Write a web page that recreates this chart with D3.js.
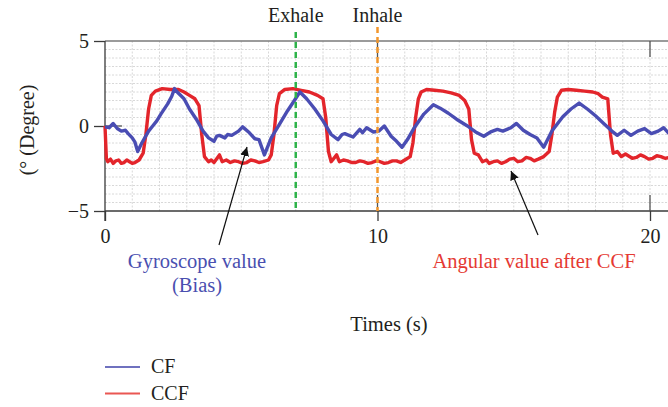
<!DOCTYPE html>
<html>
<head>
<meta charset="utf-8">
<script src="https://cdn.jsdelivr.net/npm/d3@7"></script>
<style>
  body { margin: 0; background: #fff; }
  text { font-family: "Liberation Serif", "DejaVu Serif", serif; fill: #231f20; }
</style>
</head>
<body>
<svg id="chart" width="668" height="407"></svg>
<script>
// CF curve (gyroscope value, blue)
const cfTime = [0, 0.15, 0.3, 0.45, 0.6, 0.75, 0.85, 1.0, 1.1, 1.2, 1.35, 1.6, 1.75, 1.9, 2.05, 2.3, 2.45, 2.55, 2.65, 2.9, 3.1, 3.35, 3.6, 3.8, 4.0, 4.1, 4.2, 4.4, 4.5, 4.65, 4.9, 5.05, 5.3, 5.5, 5.65, 5.85, 6.1, 6.4, 6.7, 6.95, 7.15, 7.4, 7.7, 8.0, 8.3, 8.55, 8.7, 8.8, 9.1, 9.35, 9.45, 9.6, 9.85, 10.05, 10.25, 10.5, 10.7, 10.9, 11.1, 11.35, 11.7, 12.05, 12.3, 12.6, 12.9, 13.3, 13.6, 13.9, 14.15, 14.4, 14.6, 14.9, 15.1, 15.35, 15.6, 15.85, 16.1, 16.4, 16.8, 17.1, 17.4, 17.7, 18.0, 18.3, 18.6, 18.8, 19.05, 19.3, 19.55, 19.8, 20.05, 20.3, 20.5, 20.7];
const cfValue = [-0.05, -0.1, 0.15, -0.15, -0.3, -0.25, -0.45, -0.7, -0.95, -1.5, -1.0, -0.3, 0.0, 0.3, 0.7, 1.3, 1.75, 2.2, 2.0, 1.6, 1.0, 0.4, -0.3, -0.7, -0.9, -0.6, -0.55, -0.7, -0.5, -0.55, -0.3, -0.05, -0.4, -0.75, -0.8, -1.7, -0.7, 0.1, 0.9, 1.5, 2.0, 1.6, 1.0, 0.3, -0.5, -0.8, -0.5, -0.45, -0.65, -0.2, -0.4, -0.1, -0.35, -0.3, 0.0, -0.6, -0.9, -1.25, -0.8, -0.1, 0.7, 1.25, 1.05, 0.75, 0.4, 0.0, -0.35, -0.6, -0.35, -0.2, -0.3, -0.1, 0.15, -0.25, -0.5, -0.7, -1.25, -0.3, 0.55, 1.0, 1.35, 1.0, 0.6, 0.15, -0.3, -0.55, -0.25, -0.55, -0.3, -0.15, -0.45, -0.3, -0.1, -0.45];

// CCF curve (angular value after CCF, red)
const ccfTime = [0, 0.05, 0.1, 0.2, 0.3, 0.4, 0.5, 0.6, 0.7, 0.8, 0.9, 1.0, 1.1, 1.25, 1.4, 1.5, 1.6, 1.7, 1.85, 2.1, 2.4, 2.7, 2.9, 3.1, 3.3, 3.45, 3.55, 3.65, 3.8, 3.9, 4.0, 4.2, 4.3, 4.45, 4.6, 4.75, 4.9, 5.05, 5.2, 5.35, 5.5, 5.65, 5.8, 6.0, 6.1, 6.2, 6.3, 6.4, 6.6, 6.9, 7.2, 7.5, 7.8, 8.0, 8.1, 8.2, 8.3, 8.5, 8.6, 8.75, 8.9, 9.05, 9.2, 9.35, 9.5, 9.65, 9.8, 9.95, 10.1, 10.25, 10.4, 10.55, 10.7, 10.85, 11.0, 11.2, 11.3, 11.4, 11.5, 11.6, 11.8, 12.1, 12.4, 12.7, 13.0, 13.2, 13.35, 13.45, 13.55, 13.7, 13.85, 14.0, 14.1, 14.25, 14.4, 14.55, 14.7, 14.85, 15.0, 15.15, 15.3, 15.45, 15.6, 15.75, 15.9, 16.1, 16.3, 16.4, 16.5, 16.6, 16.75, 17.0, 17.3, 17.6, 17.9, 18.1, 18.25, 18.45, 18.55, 18.65, 18.8, 18.95, 19.1, 19.2, 19.35, 19.5, 19.65, 19.8, 19.95, 20.1, 20.25, 20.4, 20.55, 20.7];
const ccfValue = [0.0, -1.9, -2.1, -1.95, -2.2, -2.05, -2.0, -2.2, -2.15, -2.0, -2.1, -2.2, -2.15, -2.0, -1.6, -0.5, 1.0, 1.8, 2.05, 2.2, 2.15, 2.15, 2.0, 1.8, 1.6, 1.2, -0.5, -1.8, -2.1, -2.0, -2.15, -1.7, -2.1, -2.0, -2.15, -2.05, -2.1, -2.2, -2.15, -2.0, -2.05, -2.15, -2.1, -2.0, -1.7, -0.5, 1.2, 1.9, 2.15, 2.2, 2.1, 2.0, 1.8, 1.6, 0.5, -1.5, -2.1, -1.7, -2.1, -2.0, -2.05, -2.15, -2.15, -2.05, -2.1, -2.2, -2.15, -2.05, -2.1, -2.2, -2.15, -2.05, -2.05, -2.15, -2.0, -1.8, -1.0, 0.5, 1.6, 2.0, 2.15, 2.1, 2.05, 1.95, 1.8, 1.5, 1.0, -0.8, -1.6, -1.7, -2.1, -2.0, -2.2, -2.1, -2.05, -2.2, -2.1, -1.95, -1.9, -2.1, -2.05, -1.85, -1.9, -2.05, -1.95, -1.8, -1.5, -0.5, 0.8, 1.7, 2.1, 2.15, 2.1, 2.05, 2.0, 1.9, 1.7, 1.6, -0.5, -1.6, -1.5, -1.8, -1.65, -1.75, -1.9, -1.85, -1.7, -1.8, -1.95, -1.9, -1.75, -1.8, -1.9, -1.85];

const xTicks = [0, 10, 20];
const yTicks = [-5, 0, 5];
const markers = [
    { label: "Exhale", time: 7, color: "#2eb34a", top: 32 },
    { label: "Inhale", time: 10, color: "#f2962c", top: 27 }
];
const legendItems = [
    { label: "CF", color: "#6f71bf" },
    { label: "CCF", color: "#ea5752" }
];

const svg = d3.select("#chart");
const plotLeft = 105, plotRight = 668, plotTop = 41, plotBottom = 211;

const x = d3.scaleLinear().domain([0, 20]).range([105, 650]);
const y = d3.scaleLinear().domain([-5, 5]).range([plotBottom, plotTop]);

// dotted grid
const grid = svg.append("g").attr("stroke", "#d8d8d8").attr("stroke-dasharray", "2,1.5");
grid.selectAll("line.v")
    .data(d3.range(1, 21))
    .enter().append("line")
    .attr("x1", d => x(d)).attr("x2", d => x(d))
    .attr("y1", plotTop).attr("y2", plotBottom);
grid.selectAll("line.h")
    .data(d3.range(-4.5, 5, 0.5))
    .enter().append("line")
    .attr("x1", plotLeft).attr("x2", plotRight)
    .attr("y1", d => y(d)).attr("y2", d => y(d));

// frame
svg.append("line").attr("x1", plotLeft).attr("x2", plotRight).attr("y1", plotTop).attr("y2", plotTop)
    .attr("stroke", "#7a7a7a").attr("stroke-width", 1.3);

const xAxis = svg.append("g")
    .attr("transform", `translate(0,${plotBottom})`)
    .call(d3.axisBottom(x).tickValues(xTicks).tickSize(10).tickPadding(5));
xAxis.select(".domain").attr("d", `M${plotLeft},0H${plotRight}`);
const yAxis = svg.append("g")
    .attr("transform", `translate(${plotLeft},0)`)
    .call(d3.axisLeft(y).tickValues(yTicks).tickSize(11).tickPadding(5)
        .tickFormat(d => d < 0 ? "\u2212" + Math.abs(d) : d));
yAxis.select(".domain").attr("d", `M0,${plotTop}V${plotBottom + 10}`);
[xAxis, yAxis].forEach(a => {
    a.selectAll(".domain").attr("stroke", "#3a3a3a").attr("stroke-width", 1.3);
    a.selectAll(".tick line").attr("stroke", "#3a3a3a").attr("stroke-width", 1.3);
    a.selectAll(".tick text").style("font-size", "20px").attr("fill", "#231f20")
        .attr("font-family", "Liberation Serif, serif");
});
xAxis.selectAll(".tick text").attr("dy", "0.85em");

// inner ticks
svg.append("g").selectAll("g")
    .data(xTicks.filter(d => d > 0))
    .enter().append("g")
    .each(function (d) {
        const g = d3.select(this);
        g.append("line").attr("x1", x(d)).attr("x2", x(d)).attr("y1", plotTop).attr("y2", plotTop + 16);
        g.append("line").attr("x1", x(d)).attr("x2", x(d)).attr("y1", plotBottom - 16).attr("y2", plotBottom);
    })
    .attr("stroke", "#555").attr("stroke-width", 1.3);
svg.append("line").attr("x1", plotLeft).attr("x2", plotLeft + 17).attr("y1", y(0)).attr("y2", y(0))
    .attr("stroke", "#555").attr("stroke-width", 1.3);

// curves
svg.append("clipPath").attr("id", "plot-clip")
    .append("rect").attr("x", plotLeft - 3).attr("y", plotTop)
    .attr("width", plotRight - plotLeft + 3).attr("height", plotBottom - plotTop);

function curve(times, values) {
    return d3.line()
        .x((d, i) => x(times[i]))
        .y(d => y(d))(values);
}

const plot = svg.append("g").attr("clip-path", "url(#plot-clip)");
plot.append("path")
    .attr("d", curve(ccfTime, ccfValue))
    .attr("fill", "none").attr("stroke", "#e3252b").attr("stroke-width", 3.4)
    .attr("stroke-linejoin", "round");
plot.append("path")
    .attr("d", curve(cfTime, cfValue))
    .attr("fill", "none").attr("stroke", "#4a4db3").attr("stroke-width", 3.4)
    .attr("stroke-linejoin", "round");

// breathing markers
markers.forEach(m => {
    svg.append("line")
        .attr("x1", x(m.time)).attr("x2", x(m.time))
        .attr("y1", m.top).attr("y2", plotBottom)
        .attr("stroke", m.color).attr("stroke-width", 2.5)
        .attr("stroke-dasharray", "6,4");
    svg.append("text")
        .attr("x", x(m.time)).attr("y", 22)
        .attr("text-anchor", "middle")
        .style("font-size", "20px")
        .text(m.label);
});

// axis titles
svg.append("text")
    .attr("transform", "translate(34,130) rotate(-90)")
    .attr("text-anchor", "middle")
    .style("font-size", "20px")
    .text("(\u00b0 (Degree)");
svg.append("text")
    .attr("x", 389).attr("y", 331)
    .attr("text-anchor", "middle")
    .style("font-size", "20.5px")
    .text("Times (s)");

// annotations
svg.append("defs").append("marker")
    .attr("id", "arrow").attr("viewBox", "0 0 10 10")
    .attr("refX", 10).attr("refY", 5)
    .attr("markerWidth", 9).attr("markerHeight", 9)
    .attr("markerUnits", "userSpaceOnUse")
    .attr("orient", "auto")
    .append("path").attr("d", "M0,0L10,5L0,10z").attr("fill", "#111");

svg.append("line").attr("x1", 219).attr("y1", 245).attr("x2", 247).attr("y2", 147)
    .attr("stroke", "#111").attr("stroke-width", 1.2).attr("marker-end", "url(#arrow)");
svg.append("line").attr("x1", 538).attr("y1", 235).attr("x2", 511).attr("y2", 171)
    .attr("stroke", "#111").attr("stroke-width", 1.2).attr("marker-end", "url(#arrow)");

svg.append("text").attr("x", 197).attr("y", 268).attr("text-anchor", "middle")
    .style("font-size", "20.5px").style("fill", "#4a4fb0").text("Gyroscope value");
svg.append("text").attr("x", 197).attr("y", 292).attr("text-anchor", "middle")
    .style("font-size", "20.5px").style("fill", "#4a4fb0").text("(Bias)");
svg.append("text").attr("x", 534).attr("y", 268).attr("text-anchor", "middle")
    .style("font-size", "20.5px").style("fill", "#e53a33").text("Angular value after CCF");

// legend
const legend = svg.append("g").selectAll("g")
    .data(legendItems)
    .enter().append("g")
    .attr("transform", (d, i) => `translate(105,${367 + i * 26.5})`);
legend.append("line").attr("x1", 0).attr("x2", 35)
    .attr("stroke", d => d.color).attr("stroke-width", 1.8);
legend.append("text").attr("x", 46).attr("y", 6)
    .style("font-size", "20px").text(d => d.label);
</script>
</body>
</html>
